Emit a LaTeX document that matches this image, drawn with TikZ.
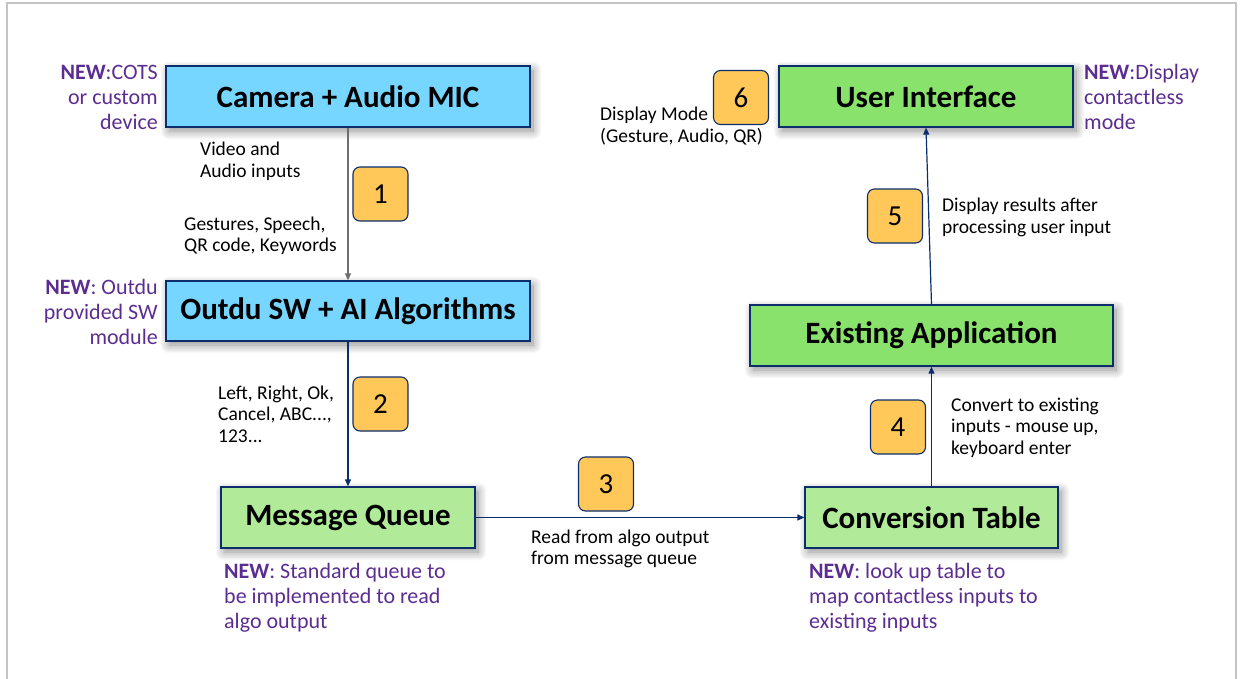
\documentclass[tikz,border=0pt]{standalone}
\usepackage{fontspec}
\setmainfont{Carlito}
\usetikzlibrary{arrows.meta,shadows.blur,calc}
\definecolor{boxblue}{HTML}{76D6FF}
\definecolor{greenA}{HTML}{89E26C}
\definecolor{greenB}{HTML}{B1EB99}
\definecolor{navy}{HTML}{0C2D6B}
\definecolor{badgeor}{HTML}{FFC859}
\definecolor{newpurple}{HTML}{5C2D91}
\definecolor{arrgray}{HTML}{6E6E6E}
\definecolor{framegray}{HTML}{C4C4C4}
\tikzset{
  mainbox/.style={draw=navy, line width=1.3pt, inner sep=0pt,
    font=\fontsize{31}{34}\selectfont\bfseries,
    blur shadow={shadow xshift=3pt, shadow yshift=-4pt, shadow blur radius=9pt, shadow blur steps=12, shadow opacity=45}},
  badge/.style={draw=navy, line width=1.1pt, fill=badgeor, rounded corners=7pt,
    minimum width=55pt, minimum height=54pt, inner sep=0pt,
    font=\fontsize{29}{30}\selectfont},
  lbl/.style={inner sep=0pt, align=left, font=\fontsize{19.5}{21.5}\selectfont, text=black},
  newnote/.style={inner sep=0pt, text=newpurple, font=\fontsize{22}{25}\selectfont},
  flow/.style={draw=navy, line width=1.2pt, -{Triangle[length=7pt,width=6pt]}},
  flowgray/.style={draw=arrgray, line width=1.4pt, -{Triangle[length=7pt,width=6pt]}}
}
\begin{document}
\begin{tikzpicture}[x=1pt,y=-1pt]
\useasboundingbox (0,0) rectangle (1242,678);
% frame
\draw[framegray, line width=2pt] (7,690) -- (7,3) -- (1236,3) -- (1236,690);

% main boxes
\node[mainbox, fill=boxblue, minimum width=364pt, minimum height=61pt] (cam) at (348,96.5) {Camera + Audio MIC};
\node[mainbox, fill=boxblue, minimum width=364pt, minimum height=60pt] (algo) at (348,311) {Outdu SW + AI Algorithms};
\node[mainbox, fill=greenB, minimum width=254pt, minimum height=61pt] (mq) at (348,517.5) {Message Queue};
\node[mainbox, fill=greenB, minimum width=253pt, minimum height=61pt] (conv) at (931.5,517.5) {Conversion Table};
\node[mainbox, fill=greenA, minimum width=363pt, minimum height=61pt] (app) at (931.5,335.5) {Existing Application};
\node[mainbox, fill=greenA, minimum width=294pt, minimum height=61pt] (ui) at (926,96.5) {User Interface};

% connectors
\draw[flowgray] (cam.south) -- (algo.north);
\draw[flow] (algo.south) -- (mq.north);
\draw[flow] (mq.east) -- (conv.west);
\draw[flow] (conv.north) -- (app.south);
\draw[flow] (app.north) -- (ui.south);

% badges
\node[badge] (b1) at (380.5,194) {1};
\node[badge] (b2) at (380.5,404) {2};
\node[badge] (b3) at (606,484) {3};
\node[badge] (b4) at (898,427) {4};
\node[badge] (b5) at (895,216) {5};
\node[badge] (b6) at (741,97.5) {6};

% labels
\node[lbl, anchor=west] (lva) at (200,161.5) {Video and\\Audio inputs};
\node[lbl, anchor=west] (lgs) at (184,236) {Gestures, Speech,\\QR code, Keywords};
\node[lbl, anchor=west] (llr) at (218,414) {Left, Right, Ok,\\Cancel, ABC...,\\123...};
\node[lbl, anchor=west] (lrf) at (531,549) {Read from algo output\\from message queue};
\node[lbl, anchor=west] (lce) at (951,427.5) {Convert to existing\\inputs - mouse up,\\keyboard enter};
\node[lbl, anchor=west] (ldr) at (942,217.5) {Display results after\\processing user input};
\node[lbl, anchor=west] (ldm) at (600,126) {Display Mode\\(Gesture, Audio, QR)};

% NEW notes
\node[newnote, anchor=east, align=right] (ncots) at (158,97) {\textbf{NEW}:COTS\\or custom\\device};
\node[newnote, anchor=east, align=right] (nout) at (158,312) {\textbf{NEW}: Outdu\\provided SW\\module};
\node[newnote, anchor=west, align=left] (nui) at (1084,97) {\textbf{NEW}:Display\\contactless\\mode};
\node[newnote, anchor=west, align=left] (nmq) at (224,598) {\textbf{NEW}: Standard queue to\\be implemented to read\\algo output};
\node[newnote, anchor=west, align=left] (nconv) at (809,598) {\textbf{NEW}: look up table to\\map contactless inputs to\\existing inputs};
\end{tikzpicture}
\end{document}
